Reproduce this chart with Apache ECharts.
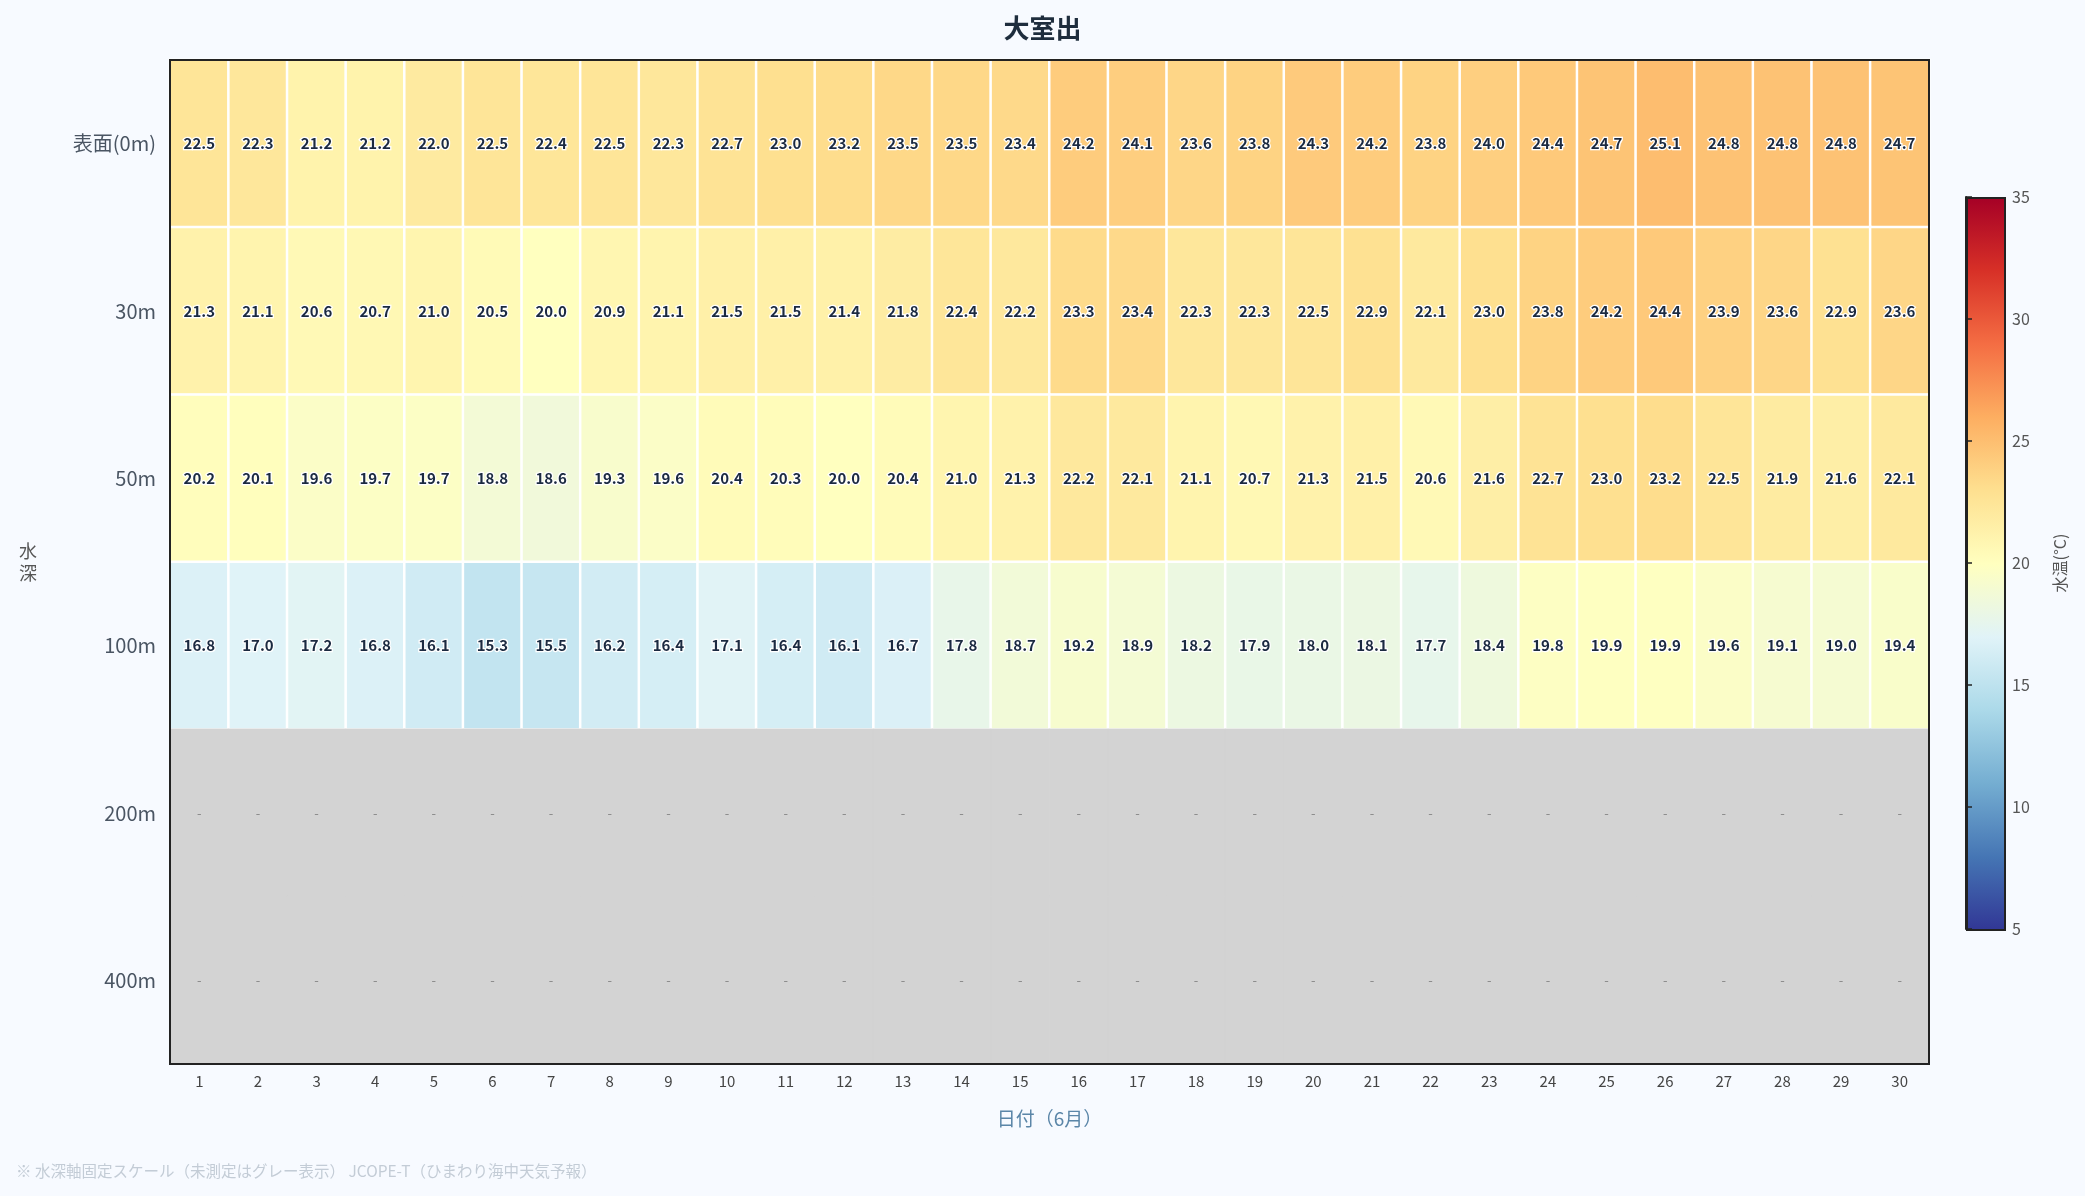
<!DOCTYPE html>
<html>
<head>
<meta charset="utf-8">
<title>大室出</title>
<script src="https://cdn.jsdelivr.net/npm/echarts@6/dist/echarts.min.js"></script>
<style>
  html, body { margin: 0; padding: 0; background: #f7faff; }
  #chart { width: 2085px; height: 1196px; }
</style>
</head>
<body>
<div id="chart"></div>
<script>
// 日付（6月）
const days = ['1','2','3','4','5','6','7','8','9','10','11','12','13','14','15','16','17','18','19','20','21','22','23','24','25','26','27','28','29','30']
// 水深カテゴリ（上から）
const depths = ['表面(0m)', '30m', '50m', '100m', '200m', '400m']
// 水温（°C）
const temp0m   = [22.5,22.3,21.2,21.2,22.0,22.5,22.4,22.5,22.3,22.7,23.0,23.2,23.5,23.5,23.4,24.2,24.1,23.6,23.8,24.3,24.2,23.8,24.0,24.4,24.7,25.1,24.8,24.8,24.8,24.7]
const temp30m  = [21.3,21.1,20.6,20.7,21.0,20.5,20.0,20.9,21.1,21.5,21.5,21.4,21.8,22.4,22.2,23.3,23.4,22.3,22.3,22.5,22.9,22.1,23.0,23.8,24.2,24.4,23.9,23.6,22.9,23.6]
const temp50m  = [20.2,20.1,19.6,19.7,19.7,18.8,18.6,19.3,19.6,20.4,20.3,20.0,20.4,21.0,21.3,22.2,22.1,21.1,20.7,21.3,21.5,20.6,21.6,22.7,23.0,23.2,22.5,21.9,21.6,22.1]
const temp100m = [16.8,17.0,17.2,16.8,16.1,15.3,15.5,16.2,16.4,17.1,16.4,16.1,16.7,17.8,18.7,19.2,18.9,18.2,17.9,18.0,18.1,17.7,18.4,19.8,19.9,19.9,19.6,19.1,19.0,19.4]
// 未測定の水深（グレー表示）
const missingDepths = ['200m', '400m']
const colorTicks = [5, 10, 15, 20, 25, 30, 35]

const measured = [temp0m, temp30m, temp50m, temp100m]
const heatData = []
measured.forEach((row, d) => {
  row.forEach((v, i) => heatData.push([i, d, v]))
})
const missingData = []
missingDepths.forEach(name => {
  const d = depths.indexOf(name)
  days.forEach((day, i) => missingData.push([i, d, 0]))
})

// RdYlBu_r
const cmap = ['#313695','#4575b4','#74add1','#abd9e9','#e0f3f8','#ffffbf','#fee090','#fdae61','#f46d43','#d73027','#a50026']

const FONT = '"Noto Sans CJK JP", "Noto Sans", sans-serif'
const CB = { left: 1966, top: 197, width: 38, height: 732 }

const mychart = echarts.init(document.getElementById('chart'))
const option = {
  backgroundColor: '#f7faff',
  textStyle: { fontFamily: FONT },
  title: {
    text: '大室出',
    left: 'center',
    top: 10,
    textStyle: { fontSize: 26, fontWeight: 'bold', color: '#1e2d3d', fontFamily: FONT }
  },
  grid: [
    { left: 170, right: 156, top: 60, bottom: 132, show: true, borderColor: '#222', borderWidth: 2, z: 10 },
    { left: CB.left, top: CB.top, width: CB.width, height: CB.height }
  ],
  xAxis: [
    {
      type: 'category',
      data: days,
      gridIndex: 0,
      axisLine: { lineStyle: { color: '#222', width: 2 } },
      axisTick: { alignWithLabel: true, length: 6, lineStyle: { color: '#222', width: 1.5 } },
      axisLabel: { fontSize: 15, color: '#444', margin: 10, fontFamily: FONT },
      splitLine: { show: false },
      name: '日付（6月）',
      nameLocation: 'middle',
      nameGap: 45,
      nameTextStyle: { color: '#5b86a8', fontSize: 19, fontFamily: FONT },
      z: 10
    },
    { type: 'value', gridIndex: 1, show: false, min: 0, max: 1 }
  ],
  yAxis: [
    {
      type: 'category',
      data: depths,
      inverse: true,
      gridIndex: 0,
      axisLine: { lineStyle: { color: '#222', width: 2 } },
      axisTick: { alignWithLabel: true, length: 6, lineStyle: { color: '#222', width: 2 } },
      axisLabel: { fontSize: 20, color: '#4a5563', margin: 14, fontFamily: FONT },
      splitLine: { show: false },
      name: '水\n深',
      nameLocation: 'middle',
      nameRotate: 0,
      nameGap: 133,
      nameTextStyle: { color: '#555', fontSize: 18, lineHeight: 22, fontFamily: FONT },
      z: 10
    },
    {
      type: 'value',
      gridIndex: 1,
      min: colorTicks[0],
      max: colorTicks[colorTicks.length - 1],
      interval: 5,
      position: 'right',
      axisLine: { show: true, lineStyle: { color: '#222', width: 2 } },
      axisTick: { show: true, length: 6, lineStyle: { color: '#222', width: 1.5 } },
      axisLabel: { fontSize: 16, color: '#555', margin: 8, fontFamily: FONT },
      splitLine: { show: false },
      name: '水温(°C)',
      nameLocation: 'middle',
      nameRotate: 90,
      nameGap: 48,
      nameTextStyle: { color: '#555', fontSize: 16, fontFamily: FONT },
      z: 10
    }
  ],
  visualMap: {
    type: 'continuous',
    show: false,
    min: 5,
    max: 35,
    seriesIndex: 0,
    inRange: { color: cmap }
  },
  graphic: [
    {
      // カラーバー
      type: 'rect',
      left: CB.left,
      top: CB.top,
      shape: { width: CB.width, height: CB.height },
      style: {
        fill: {
          type: 'linear', x: 0, y: 1, x2: 0, y2: 0,
          colorStops: cmap.map((c, i) => ({ offset: i / (cmap.length - 1), color: c }))
        },
        stroke: '#222',
        lineWidth: 2
      },
      z: 5
    },
    {
      type: 'text',
      left: 16,
      top: 1163,
      style: {
        text: '※ 水深軸固定スケール（未測定はグレー表示） JCOPE-T（ひまわり海中天気予報）',
        fill: '#c3ccd6',
        font: '15.5px ' + FONT
      }
    }
  ],
  series: [
    {
      name: '水温',
      type: 'heatmap',
      xAxisIndex: 0,
      yAxisIndex: 0,
      data: heatData,
      itemStyle: { borderColor: '#ffffff', borderWidth: 2.5 },
      label: {
        show: true,
        formatter: p => p.value[2].toFixed(1),
        fontSize: 15,
        fontWeight: 'bold',
        color: '#1b2a41',
        textBorderColor: '#ffffff',
        textBorderWidth: 2.5,
        fontFamily: FONT
      }
    },
    {
      name: '未測定',
      type: 'heatmap',
      xAxisIndex: 0,
      yAxisIndex: 0,
      data: missingData,
      itemStyle: { color: '#d3d3d3', borderColor: '#d3d3d3', borderWidth: 1 },
      label: {
        show: true,
        formatter: () => '-',
        fontSize: 13,
        color: '#888',
        fontFamily: FONT
      }
    }
  ]
}
mychart.setOption(option, true)
</script>
</body>
</html>
